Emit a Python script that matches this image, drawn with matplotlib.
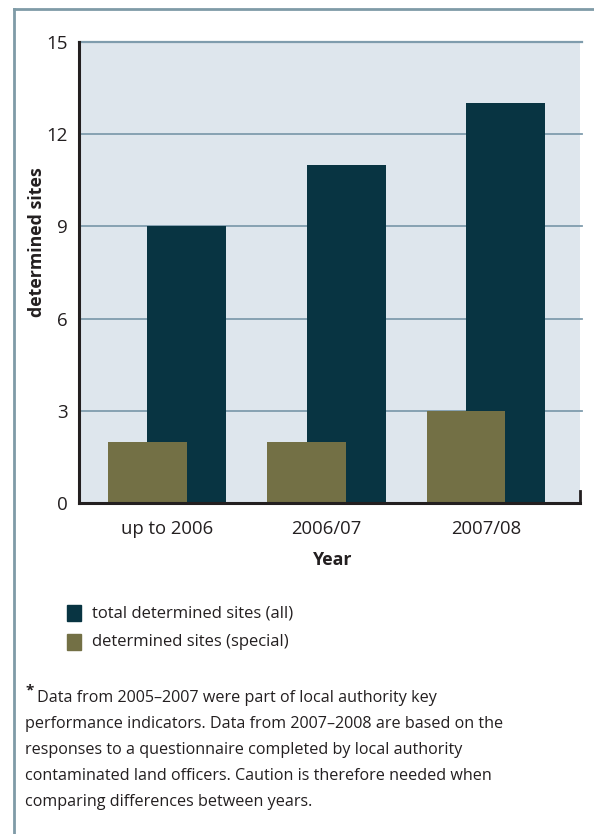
import numpy as np
import matplotlib.pyplot as plt
from matplotlib.lines import Line2D
from matplotlib.patches import Rectangle

years = ["up to 2006", "2006/07", "2007/08"]
total_sites = [9, 11, 13]
special_sites = [2, 2, 3]
legend_labels = ["total determined sites (all)", "determined sites (special)"]
y_ticks = [0, 3, 6, 9, 12, 15]

c_total = "#083442"
c_special = "#737045"
c_grid = "#7f9cad"
c_bg = "#dee6ed"
c_frame = "#7f9ba7"
c_text = "#231f20"

plt.rcParams["font.family"] = ["Open Sans", "DejaVu Sans"]

fig = plt.figure(figsize=(5.94, 8.34), dpi=100)
W, H = 594, 834

# outer frame (top and left only)
fig.add_artist(Line2D([14 / W, 14 / W], [0, 1 - 9 / H], color=c_frame, lw=2))
fig.add_artist(Line2D([14 / W, 1], [1 - 9 / H, 1 - 9 / H], color=c_frame, lw=2))

ax = fig.add_axes([79 / W, 1 - 503 / H, (580 - 79) / W, (503 - 42) / H])
ax.set_facecolor(c_bg)

x = np.arange(len(years))
w = 0.495
ax.bar(x + 0.125, total_sites, width=w, color=c_total, zorder=3)
ax.bar(x - 0.125, special_sites, width=w, color=c_special, zorder=4)

ax.set_xlim(-0.552, 2.59)
ax.set_ylim(0, 15)
ax.set_yticks(y_ticks)
ax.set_yticklabels([str(t) for t in y_ticks], fontsize=13.5, color=c_text)
ax.set_xticks(x)
ax.set_xticklabels(years, fontsize=13.3, color=c_text)
ax.tick_params(axis="y", length=0, pad=8)
ax.tick_params(axis="x", length=0, pad=12)

for t in y_ticks[1:]:
    ax.axhline(t, color=c_grid, lw=1.6 if t == 15 else 1.3, zorder=1, xmax=1.004, clip_on=False)

for s in ["top", "right"]:
    ax.spines[s].set_visible(False)
ax.spines["left"].set_color(c_text)
ax.spines["left"].set_linewidth(2.2)
ax.spines["bottom"].set_color(c_text)
ax.spines["bottom"].set_linewidth(2.2)
ax.spines["bottom"].set_zorder(5)
ax.plot([1, 1], [0, 0.025], transform=ax.transAxes, color=c_text, lw=2, clip_on=False, zorder=6)

fig.text(37 / W, 1 - 242 / H, "determined sites", rotation=90, fontsize=12.8,
         fontweight="bold", color=c_text, ha="center", va="center")
fig.text(333 / W, 1 - 560 / H, "Year", fontsize=12.8, fontweight="bold",
         color=c_text, ha="center", va="center")

# legend
for i, (lab, col) in enumerate(zip(legend_labels, [c_total, c_special])):
    yc = 613 + i * 29
    fig.add_artist(Rectangle((67 / W, 1 - (yc + 8) / H), 14 / W, 16 / H,
                             color=col, transform=fig.transFigure))
    fig.text(92 / W, 1 - yc / H, lab, fontsize=12, color=c_text, va="center")

note = ["Data from 2005\u20132007 were part of local authority key",
        "performance indicators. Data from 2007\u20132008 are based on the",
        "responses to a questionnaire completed by local authority",
        "contaminated land officers. Caution is therefore needed when",
        "comparing differences between years."]
fig.text(26 / W, 1 - 690 / H, "*", fontsize=11, color=c_text, va="center", fontweight="bold")
for i, line in enumerate(note):
    xs = 37 if i == 0 else 25
    fig.text(xs / W, 1 - (698 + i * 26) / H, line, fontsize=11.6, color=c_text, va="center")

fig.savefig("out.png", dpi=100)
